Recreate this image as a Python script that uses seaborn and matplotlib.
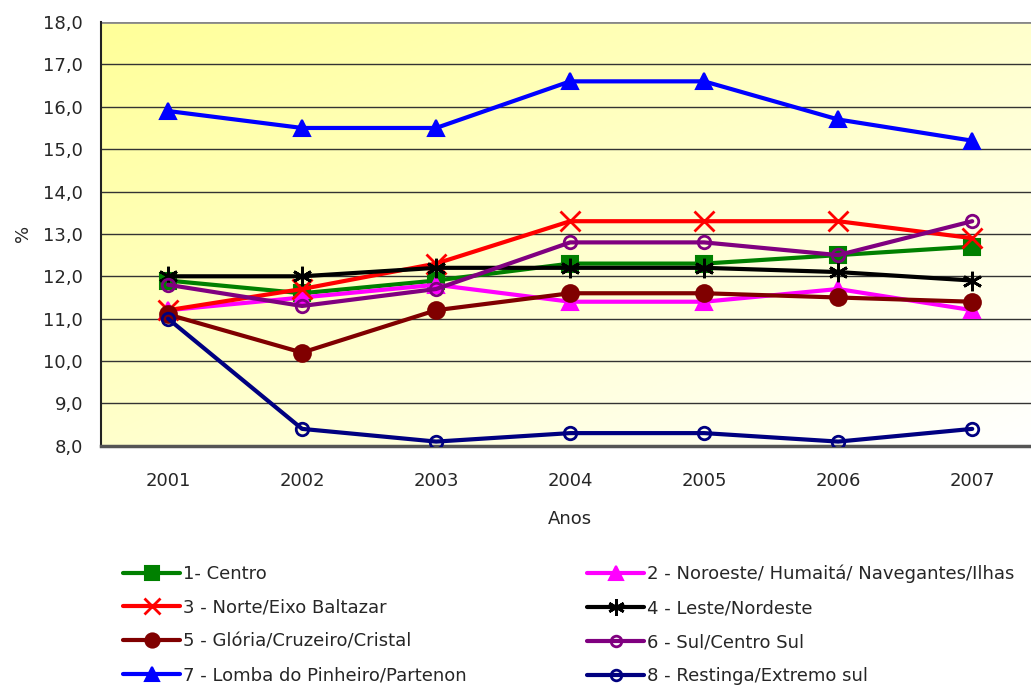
import numpy as np
import pandas as pd
import seaborn as sns
import matplotlib.pyplot as plt
from matplotlib.colors import LinearSegmentedColormap

# ---------- data ----------
anos = ["2001", "2002", "2003", "2004", "2005", "2006", "2007"]

centro = [11.9, 11.6, 11.9, 12.3, 12.3, 12.5, 12.7]
noroeste = [11.2, 11.5, 11.8, 11.4, 11.4, 11.7, 11.2]
norte = [11.2, 11.7, 12.3, 13.3, 13.3, 13.3, 12.9]
leste = [12.0, 12.0, 12.2, 12.2, 12.2, 12.1, 11.9]
gloria = [11.1, 10.2, 11.2, 11.6, 11.6, 11.5, 11.4]
sul = [11.8, 11.3, 11.7, 12.8, 12.8, 12.5, 13.3]
lomba = [15.9, 15.5, 15.5, 16.6, 16.6, 15.7, 15.2]
restinga = [11.0, 8.4, 8.1, 8.3, 8.3, 8.1, 8.4]

nomes = ["1- Centro", "2 - Noroeste/ Humaitá/ Navegantes/Ilhas",
         "3 - Norte/Eixo Baltazar", "4 - Leste/Nordeste",
         "5 - Glória/Cruzeiro/Cristal", "6 - Sul/Centro Sul",
         "7 - Lomba do Pinheiro/Partenon", "8 - Restinga/Extremo sul"]
series = [centro, noroeste, norte, leste, gloria, sul, lomba, restinga]

# style per series: color, marker, filled
estilos = [("#008000", "s", True), ("#FF00FF", "^", True),
           ("#FF0000", "x", True), ("#000000", (6, 2, 0), True),
           ("#800000", "o", True), ("#800080", "o", False),
           ("#0000FF", "^", True), ("#000080", "o", False)]

sns.set_style("white")
plt.rcParams['font.family'] = ['DejaVu Sans']

fig = plt.figure(figsize=(10.31, 6.88), dpi=100)
ax = fig.add_axes([0.098, 0.352, 0.91, 0.616])

# yellow -> white diagonal gradient background (yellow top-left)
cmap = LinearSegmentedColormap.from_list("bg", ["#FFFF99", "#FFFFFF"])
gx, gy = np.meshgrid(np.linspace(0, 1, 200), np.linspace(0, 1, 200))
grad = (gx + gy) / 2
ax.imshow(grad, cmap=cmap, extent=[0, 1, 0, 1], transform=ax.transAxes,
          aspect="auto", zorder=0, origin="upper")

x = np.arange(len(anos))
for nome, vals, (cor, mk, cheio) in zip(nomes, series, estilos):
    ms = 12
    mew = 1.5
    if mk == "x" or isinstance(mk, tuple):
        ms = 14
        mew = 2
    if not cheio:
        ms = 9
        mew = 2
    sns.lineplot(x=x, y=vals, ax=ax, color=cor, marker=mk, markersize=ms,
                 markerfacecolor=cor if cheio else "none",
                 markeredgecolor=cor, markeredgewidth=mew,
                 linewidth=3, label=nome, zorder=3)

# grid and axes
for v in range(8, 18):
    ax.axhline(v, color="#333333", lw=1, zorder=1)
ax.axhline(18, color="#888888", lw=2, zorder=1)
ax.set_ylim(8, 18)
ax.set_xlim(-0.5, 6.5)
ax.set_yticks(range(8, 19))
ax.set_yticklabels([f"{v},0" for v in range(8, 19)], fontsize=13)
ax.set_xticks(x)
ax.set_xticklabels(anos, fontsize=13)
ax.set_xticks(np.arange(-0.5, 7, 1), minor=True)
ax.tick_params(axis="x", which="major", length=0, pad=19)
ax.tick_params(axis="x", which="minor", length=9, color="#333333", direction="out")
ax.tick_params(axis="y", length=8, color="#333333", direction="out", pad=5)
for s in ["top", "right"]:
    ax.spines[s].set_visible(False)
ax.spines["left"].set_color("#222222")
ax.spines["left"].set_linewidth(1.5)
ax.spines["bottom"].set_color("#555555")
ax.spines["bottom"].set_linewidth(2.5)

ax.set_xlabel("Anos", fontsize=13, labelpad=14)
ax.set_ylabel("%", fontsize=13, labelpad=8)

# legend: two columns placed separately, rows read left to right
h, l = ax.get_legend_handles_labels()
ax.get_legend().remove()
kw = dict(loc="upper left", frameon=False, fontsize=13, handlelength=3.2,
          handletextpad=0.15, labelspacing=0.88, borderaxespad=0,
          borderpad=0, markerscale=0.85)
fig.legend([h[i] for i in [0, 2, 4, 6]], [l[i] for i in [0, 2, 4, 6]],
           bbox_to_anchor=(0.119, 0.179), **kw)
fig.legend([h[i] for i in [1, 3, 5, 7]], [l[i] for i in [1, 3, 5, 7]],
           bbox_to_anchor=(0.569, 0.179), **kw)

fig.savefig("out.png", dpi=100)
